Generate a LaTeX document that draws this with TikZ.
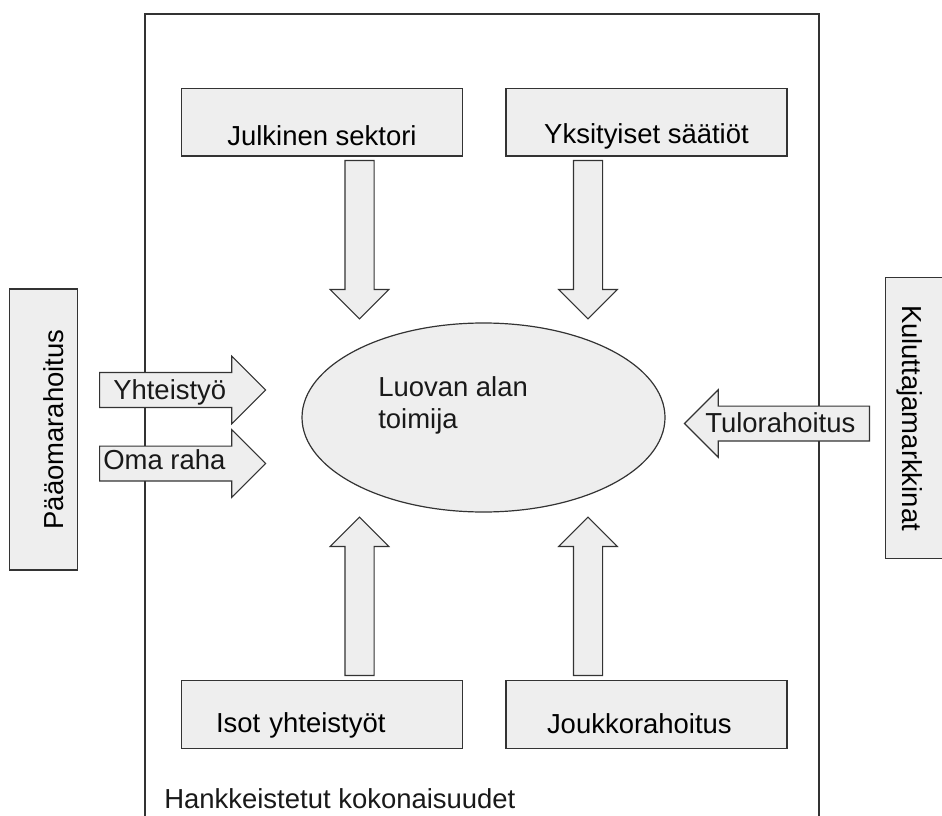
\documentclass[tikz,border=0pt]{standalone}
\usepackage{fontspec}
\setmainfont{Liberation Sans}
\usepackage{xcolor}
\usetikzlibrary{shapes.geometric,shapes.arrows}
\definecolor{boxgray}{HTML}{EEEEEE}
\definecolor{linegray}{HTML}{333333}
\newcommand{\diafont}{\fontsize{20.6pt}{23.3pt}\selectfont}
\tikzset{box/.style={draw=linegray,line width=0.9pt,fill=boxgray,minimum width=210.75pt,minimum height=50.5pt,inner sep=0pt,text depth=0pt,text height=#1,font=\diafont},
  box/.default=30pt,
  blk/.style={single arrow,draw=linegray,line width=0.9pt,fill=boxgray,inner xsep=0pt,anchor=tail},
  vblk/.style={blk,inner ysep=10.5pt,single arrow head extend=11pt,minimum height=118.7pt},
  hblk/.style={blk,inner ysep=12.6pt,single arrow head extend=12.3pt},
  lbl/.style={font=\diafont,inner sep=0pt,text=black!90}}

\begin{document}
\begin{tikzpicture}[x=0.75pt,y=-0.75pt]
\useasboundingbox (0,0) rectangle (942,816);
\clip (0,0) rectangle (942,816);
\node[draw=linegray,line width=1.5pt,minimum width=505.5pt,minimum height=619.5pt,inner sep=0pt] (frame) at (482,427) {};
\node[lbl,anchor=base west] (frameT) at (164,808) {Hankkeistetut kokonaisuudet};

\node[box=34.5pt] (pub) at (322,122.25) {Julkinen sektori};
\node[box=31.5pt] (fund) at (646.5,122.25) {Yksityiset säätiöt};
\node[box=26.25pt,text width=159pt,align=left] (big) at (322,714.5) {Isot yhteistyöt};
\node[box=27.75pt,text width=149.25pt,align=left] (crowd) at (646.5,714.5) {Joukkorahoitus};
\node[box=29.25pt,rotate=90] (cap) at (43.5,429.5) {Pääomarahoitus};
\node[box=26.25pt,rotate=-90] (market) at (919.5,418) {Kuluttajamarkkinat};

\node[ellipse,draw=linegray,line width=0.9pt,fill=boxgray,minimum width=272.25pt,minimum height=141.75pt,inner sep=0pt] (actor) at (483.5,417.5) {};
\node[lbl,anchor=base west,align=left] (actorT) at (378,428) {Luovan alan\\toimija};

\node[vblk,rotate=270] (pubA) at (359.5,160) {};
\node[vblk,rotate=270] (fundA) at (588,160) {};
\node[vblk,rotate=90] (bigA) at (359.5,676) {};
\node[vblk,rotate=90] (crowdA) at (588,676) {};

\node[hblk,minimum height=124.5pt] (coopA) at (99,390) {};
\node[hblk,minimum height=124.5pt] (ownA) at (99,463.5) {};
\node[hblk,minimum height=138.75pt,rotate=180] (salesA) at (870,423.5) {};
\node[lbl,anchor=base west] (coopT) at (113,399) {Yhteistyö};
\node[lbl,anchor=base west] (ownT) at (103,469) {Oma raha};
\node[lbl,anchor=base west] (salesT) at (705,432) {Tulorahoitus};
\end{tikzpicture}
\end{document}
